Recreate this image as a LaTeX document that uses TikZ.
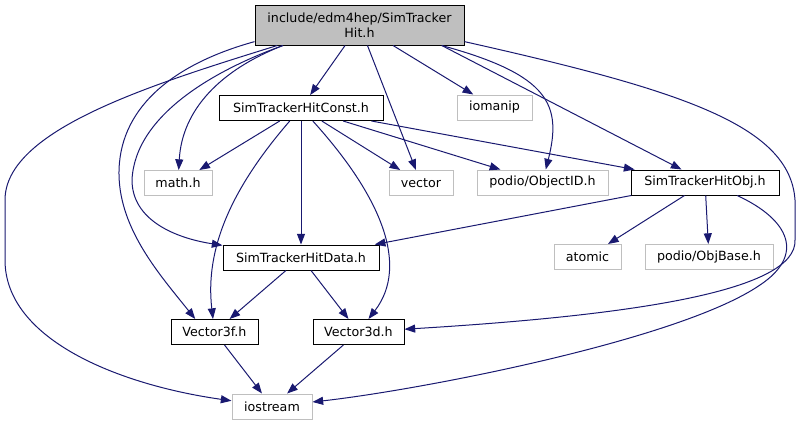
\documentclass[tikz,border=0pt]{standalone}
\usepackage{fontspec}
\setmainfont{DejaVu Sans}
\usetikzlibrary{arrows.meta}
\definecolor{edgeblue}{HTML}{191970}
\definecolor{boxgray}{HTML}{BFBFBF}
\tikzset{
  hdr/.style={draw=black, line width=0.75pt, minimum height=18.75pt, inner sep=0pt,
    font=\fontsize{9.5}{11.4}\selectfont},
  sys/.style={hdr, draw=boxgray},
  bw/.style={minimum width=#1*0.75pt},
  incl/.style={draw=edgeblue, line width=0.75pt, -{Triangle[length=8pt,width=6pt]}}
}

\begin{document}
\begin{tikzpicture}[x=0.75pt, y=-0.75pt]
  \useasboundingbox (0,0) rectangle (802,425);
  \node[hdr, fill=boxgray, bw=209, minimum height=30pt, align=center] (root) at (359.5,25) {include/edm4hep/SimTracker\\Hit.h};
  \node[hdr, bw=164] (const) at (301,108) {SimTrackerHitConst.h};
  \node[sys, bw=75] (iomanip) at (494.5,107.5) {iomanip};
  \node[sys, bw=68] (math) at (178,183) {math.h};
  \node[sys, bw=64] (vector) at (421,183) {vector};
  \node[sys, bw=131] (objid) at (542.5,182.5) {podio/ObjectID.h};
  \node[hdr, bw=148] (obj) at (705,182.5) {SimTrackerHitObj.h};
  \node[hdr, bw=156] (data) at (301,257.5) {SimTrackerHitData.h};
  \node[sys, bw=67] (atomic) at (587.5,257) {atomic};
  \node[sys, bw=128] (objbase) at (709,257) {podio/ObjBase.h};
  \node[hdr, bw=87] (v3f) at (214.5,332) {Vector3f.h};
  \node[hdr, bw=91] (v3d) at (358.5,332) {Vector3d.h};
  \node[sys, bw=80] (iostream) at (272,406.5) {iostream};
  % SimTrackerHit.h
  \draw[incl] (root) -- (const);
  \draw[incl] (root) -- (iomanip);
  \draw[incl] (root) -- (vector);
  \draw[incl] (root.-14.5) -- (obj.151.5);
  \draw[incl] (root.-14.5) .. controls (550,75) and (562,105) .. (objid);
  \draw[incl] (root.-165) .. controls (220,70) and (182,110) .. (math);
  \draw[incl] (root.-165) .. controls (215,70) and (135,115) .. (132,180) .. controls (132,220) and (175,238) .. (data);
  \draw[incl] (root.-171) .. controls (170,65) and (118,110) .. (119,175) .. controls (120,230) and (160,275) .. (v3f.146);
  \draw[incl] (root.-166) .. controls (150,85) and (5,130) .. (5,200) -- (5,260) .. controls (5,340) and (120,385) .. (iostream);
  \draw[incl] (root.-9.2) .. controls (680,90) and (790,125) .. (795,200) -- (795,240) .. controls (797,290) and (640,315) .. (v3d);
  % SimTrackerHitConst.h
  \draw[incl] (const) -- (math);
  \draw[incl] (const) -- (vector);
  \draw[incl] (const) -- (objid);
  \draw[incl] (const) -- (obj);
  \draw[incl] (const) -- (data);
  \draw[incl] (const) .. controls (230,190) and (205,250) .. (v3f);
  \draw[incl] (const) .. controls (380,195) and (410,265) .. (v3d);
  % SimTrackerHitObj.h
  \draw[incl] (obj.-170) -- (data.10);
  \draw[incl] (obj) -- (atomic);
  \draw[incl] (obj) -- (objbase);
  \draw[incl] (obj.-22.6) .. controls (790,220) and (805,255) .. (760,285) .. controls (680,340) and (420,390) .. (iostream);
  % SimTrackerHitData.h and Vector headers
  \draw[incl] (data) -- (v3f);
  \draw[incl] (data) -- (v3d);
  \draw[incl] (v3f) -- (iostream);
  \draw[incl] (v3d) -- (iostream);
\end{tikzpicture}
\end{document}
